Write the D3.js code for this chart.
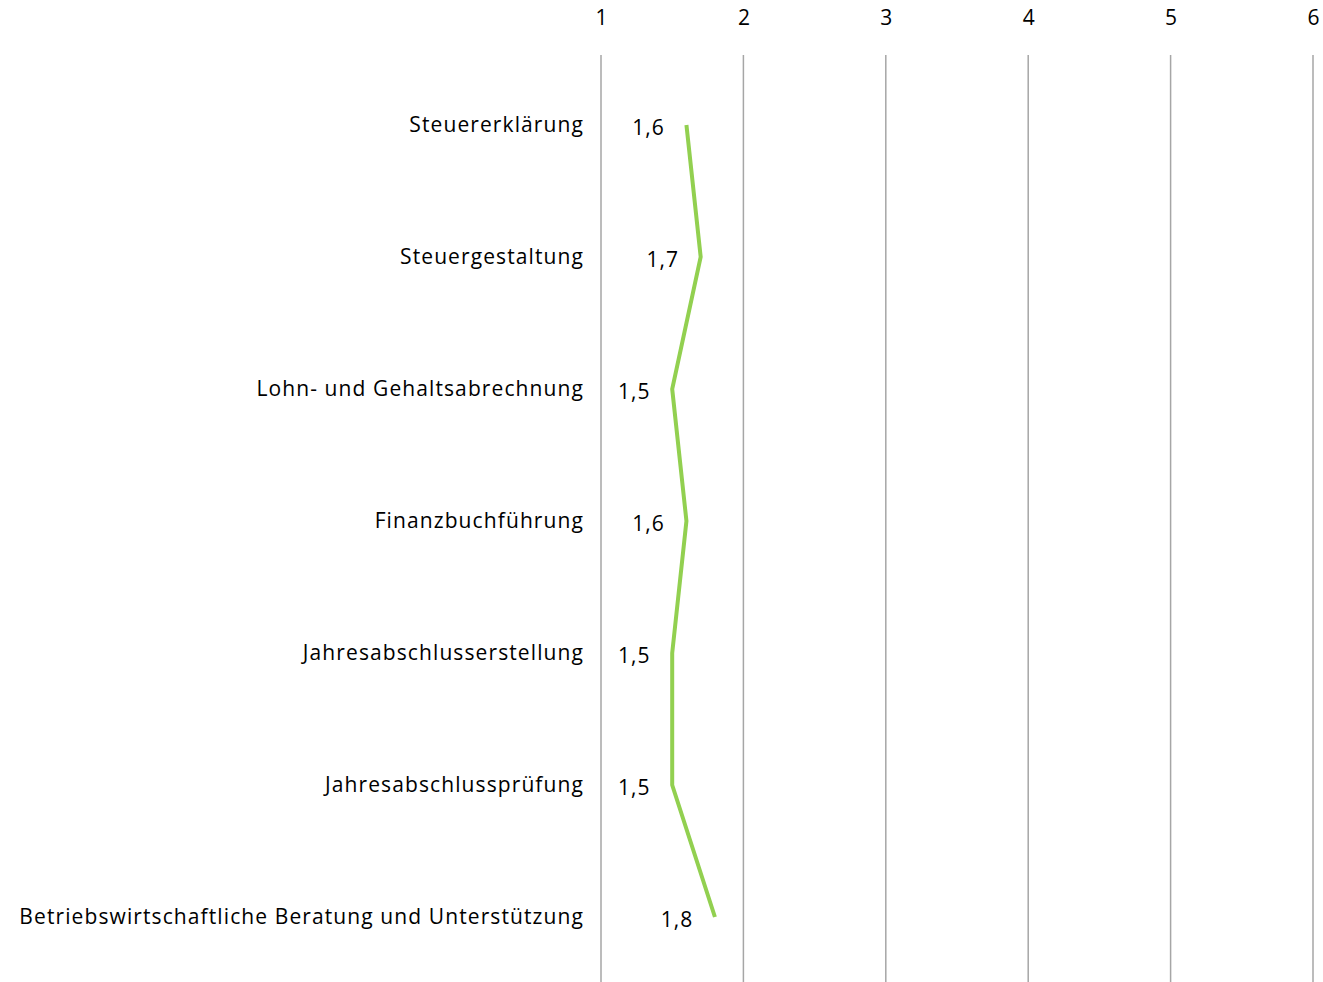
<!DOCTYPE html>
<html>
<head>
<meta charset="utf-8">
<script src="https://cdn.jsdelivr.net/npm/d3@7"></script>
<style>
  body { margin: 0; background: #fff; }
  text { font-family: "Open Sans", "Liberation Sans", sans-serif; fill: #000; }
</style>
</head>
<body>
<script>
// Daten
var kategorien = ["Steuererklärung", "Steuergestaltung", "Lohn- und Gehaltsabrechnung",
  "Finanzbuchführung", "Jahresabschlusserstellung", "Jahresabschlussprüfung",
  "Betriebswirtschaftliche Beratung und Unterstützung"];
var werte = [1.6, 1.7, 1.5, 1.6, 1.5, 1.5, 1.8];
var achsenTicks = [1, 2, 3, 4, 5, 6];

var width = 1323, height = 982;
var margin = {top: 55, right: 10, bottom: 0, left: 601};

var svg = d3.select("body").append("svg")
    .attr("width", width)
    .attr("height", height);

// X Achse (oben)
var xScale = d3.scaleLinear()
    .domain([1, 6])
    .range([margin.left, 1313]);

// Kategorien (vertikal)
var yScale = d3.scalePoint()
    .domain(kategorien)
    .range([125, 917]);

// Gitterlinien
svg.append("g")
  .selectAll("line")
  .data(achsenTicks)
  .join("line")
    .attr("x1", d => xScale(d))
    .attr("x2", d => xScale(d))
    .attr("y1", margin.top)
    .attr("y2", height)
    .attr("stroke", "#a6a6a6")
    .attr("stroke-width", 1.5);

// Tick Beschriftung oben
var xAxis = svg.append("g")
    .attr("transform", "translate(0,25)")
    .call(d3.axisTop(xScale).tickValues(achsenTicks).tickFormat(d3.format("d")).tickSize(0).tickPadding(0));
xAxis.select(".domain").remove();
xAxis.selectAll("text")
    .attr("font-size", 21)
    .attr("font-family", "'Open Sans', sans-serif")
    .attr("fill", "#000");

// Kategorien Beschriftung links
svg.append("g")
  .selectAll("text")
  .data(kategorien)
  .join("text")
    .attr("x", 584)
    .attr("y", d => yScale(d))
    .attr("dy", "0.35em")
    .attr("text-anchor", "end")
    .attr("font-size", 21)
    .attr("letter-spacing", 1.1)
    .text(d => d);

// Linie
var line = d3.line()
    .x(d => xScale(d))
    .y((d, i) => yScale(kategorien[i]));

svg.append("path")
    .datum(werte)
    .attr("fill", "none")
    .attr("stroke", "#92d050")
    .attr("stroke-width", 4)
    .attr("stroke-linejoin", "miter")
    .attr("d", line);

// Werte Beschriftung
svg.append("g")
  .selectAll("text")
  .data(werte)
  .join("text")
    .attr("x", d => xScale(d) - 38)
    .attr("y", (d, i) => yScale(kategorien[i]) + 3)
    .attr("dy", "0.35em")
    .attr("text-anchor", "middle")
    .attr("font-size", 21)
    .attr("letter-spacing", 1)
    .text(d => String(d).replace(".", ","));
</script>
</body>
</html>
